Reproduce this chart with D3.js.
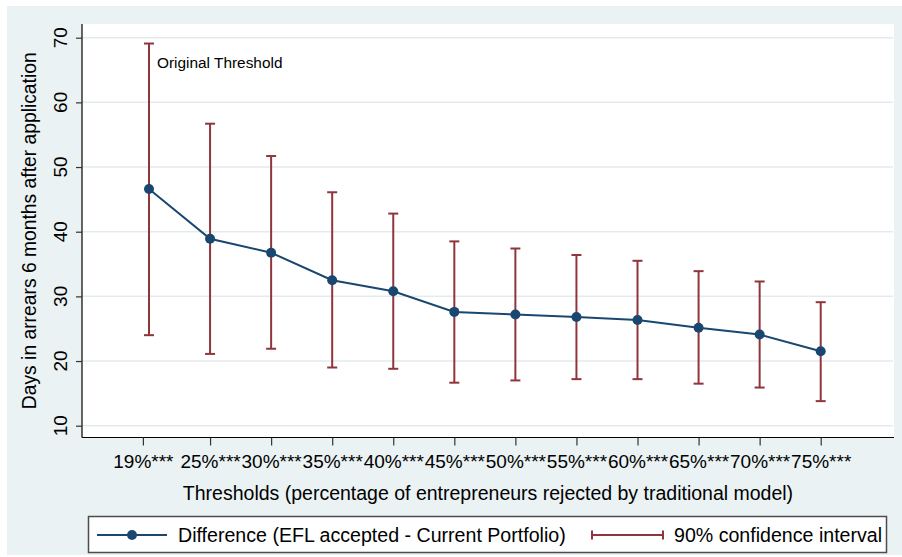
<!DOCTYPE html>
<html>
<head>
<meta charset="utf-8">
<script src="https://cdn.jsdelivr.net/npm/d3@7"></script>
<style>
  html, body { margin: 0; padding: 0; background: #ffffff; }
  svg { display: block; font-family: "Liberation Sans", Arial, Helvetica, sans-serif; }
</style>
</head>
<body>
<svg id="chart" width="902" height="557"></svg>
<script>
// ---- data ----
const thresholds = [20, 25, 30, 35, 40, 45, 50, 55, 60, 65, 70, 75];
const difference = [46.6, 38.9, 36.75, 32.5, 30.8, 27.6, 27.2, 26.8, 26.35, 25.15, 24.1, 21.5];
const ciUpper    = [69.1, 56.7, 51.7, 46.1, 42.8, 38.5, 37.4, 36.4, 35.5, 33.9, 32.3, 29.1];
const ciLower    = [24.0, 21.1, 21.9, 19.0, 18.8, 16.65, 17.0, 17.2, 17.2, 16.5, 15.9, 13.8];
const xTickValues = [19.5, 25, 30, 35, 40, 45, 50, 55, 60, 65, 70, 75];
const xTickLabels = ["19%***", "25%***", "30%***", "35%***", "40%***", "45%***", "50%***", "55%***", "60%***", "65%***", "70%***", "75%***"];
const yTickValues = [10, 20, 30, 40, 50, 60, 70];
const annotation = { x: 20, y: 65.3, text: "Original Threshold" };
const yTitle = "Days in arrears 6 months after application";
const xTitle = "Thresholds (percentage of entrepreneurs rejected by traditional model)";
const legendLabels = ["Difference (EFL accepted - Current Portfolio)", "90% confidence interval"];

// ---- layout ----
const W = 902, H = 557;
const plot = { left: 82, right: 894, top: 24, bottom: 437.5 };
const navy = "#1a476f", maroon = "#90353b", bg = "#eaf2f3", grid = "#e3ebee";

const svg = d3.select("#chart");
const x = d3.scaleLinear().domain([20, 75]).range([149, 820.7]);
const y = d3.scaleLinear().domain([10, 70]).range([425.7, 37.7]);

// backgrounds
svg.append("rect").attr("x", 7).attr("y", 6).attr("width", W - 7).attr("height", 549).attr("fill", bg);
svg.append("rect").attr("x", plot.left).attr("y", plot.top)
  .attr("width", plot.right - plot.left).attr("height", plot.bottom - plot.top).attr("fill", "#ffffff");

// gridlines
svg.append("g").selectAll("line").data(yTickValues).join("line")
  .attr("x1", plot.left).attr("x2", plot.right - 1)
  .attr("y1", d => y(d)).attr("y2", d => y(d))
  .attr("stroke", grid).attr("stroke-width", 1.5);

// y axis
const yAxis = svg.append("g").attr("transform", `translate(${plot.left},0)`)
  .call(d3.axisLeft(y).tickValues(yTickValues).tickSize(6).tickFormat(d3.format("d")));
yAxis.select(".domain").attr("d", `M0,${plot.top}V${plot.bottom}`).attr("stroke", "#000").attr("stroke-width", 1.2);
yAxis.selectAll(".tick line").attr("stroke", "#333").attr("stroke-width", 1.2);
yAxis.selectAll(".tick text").remove();
svg.append("g").selectAll("text").data(yTickValues).join("text")
  .attr("transform", d => `translate(66.5,${y(d)}) rotate(-90)`)
  .attr("text-anchor", "middle").attr("font-size", 19).attr("fill", "#000")
  .text(d => d);

// x axis
const xAxis = svg.append("g").attr("transform", `translate(0,${plot.bottom})`)
  .call(d3.axisBottom(x).tickValues(xTickValues).tickSize(8).tickFormat((d, i) => xTickLabels[i]));
xAxis.select(".domain").attr("d", `M${plot.left},0H${plot.right}`).attr("stroke", "#000").attr("stroke-width", 1.2);
xAxis.selectAll(".tick line").attr("stroke", "#333").attr("stroke-width", 1.2);
xAxis.selectAll(".tick text").attr("font-size", 19).attr("fill", "#000")
  .attr("font-family", "Liberation Sans, Arial, sans-serif")
  .attr("y", 0).attr("dy", 0).attr("transform", `translate(0,${468 - plot.bottom})`);

// axis titles
svg.append("text").attr("transform", `translate(36,${(plot.top + plot.bottom) / 2}) rotate(-90)`)
  .attr("text-anchor", "middle").attr("font-size", 19.3).attr("fill", "#000").text(yTitle);
svg.append("text").attr("x", (plot.left + plot.right) / 2).attr("y", 500)
  .attr("text-anchor", "middle").attr("font-size", 19.5).attr("fill", "#000").text(xTitle);

// confidence intervals
const ci = svg.append("g").attr("stroke", maroon).attr("stroke-width", 2).attr("fill", "none");
thresholds.forEach((t, i) => {
  const cx = x(t);
  ci.append("line").attr("x1", cx).attr("x2", cx).attr("y1", y(ciUpper[i])).attr("y2", y(ciLower[i]));
  ci.append("line").attr("x1", cx - 5).attr("x2", cx + 5).attr("y1", y(ciUpper[i])).attr("y2", y(ciUpper[i]));
  ci.append("line").attr("x1", cx - 5).attr("x2", cx + 5).attr("y1", y(ciLower[i])).attr("y2", y(ciLower[i]));
});

// line + markers
const pts = thresholds.map((t, i) => [t, difference[i]]);
svg.append("path").datum(pts)
  .attr("d", d3.line().x(d => x(d[0])).y(d => y(d[1])))
  .attr("fill", "none").attr("stroke", navy).attr("stroke-width", 2);
svg.append("g").selectAll("circle").data(pts).join("circle")
  .attr("cx", d => x(d[0])).attr("cy", d => y(d[1])).attr("r", 5).attr("fill", navy);

// annotation
svg.append("text").attr("x", x(annotation.x) + 8).attr("y", y(annotation.y))
  .attr("font-size", 15.4).attr("fill", "#000").text(annotation.text);

// legend
const lg = svg.append("g");
lg.append("rect").attr("x", 88.5).attr("y", 516.5).attr("width", 798).attr("height", 36)
  .attr("fill", "#fff").attr("stroke", "#4d4d4d").attr("stroke-width", 1.5);
const ly = 535;
lg.append("line").attr("x1", 97).attr("x2", 167).attr("y1", ly).attr("y2", ly).attr("stroke", navy).attr("stroke-width", 2);
lg.append("circle").attr("cx", 132).attr("cy", ly).attr("r", 5).attr("fill", navy);
lg.append("text").attr("x", 178).attr("y", 541.5).attr("font-size", 19.6).attr("fill", "#000").text(legendLabels[0]);
lg.append("line").attr("x1", 592).attr("x2", 663).attr("y1", ly).attr("y2", ly).attr("stroke", maroon).attr("stroke-width", 2);
lg.append("line").attr("x1", 592).attr("x2", 592).attr("y1", ly - 4.5).attr("y2", ly + 4.5).attr("stroke", maroon).attr("stroke-width", 2);
lg.append("line").attr("x1", 663).attr("x2", 663).attr("y1", ly - 4.5).attr("y2", ly + 4.5).attr("stroke", maroon).attr("stroke-width", 2);
lg.append("text").attr("x", 674).attr("y", 541.5).attr("font-size", 19.6).attr("fill", "#000").text(legendLabels[1]);
</script>
</body>
</html>
